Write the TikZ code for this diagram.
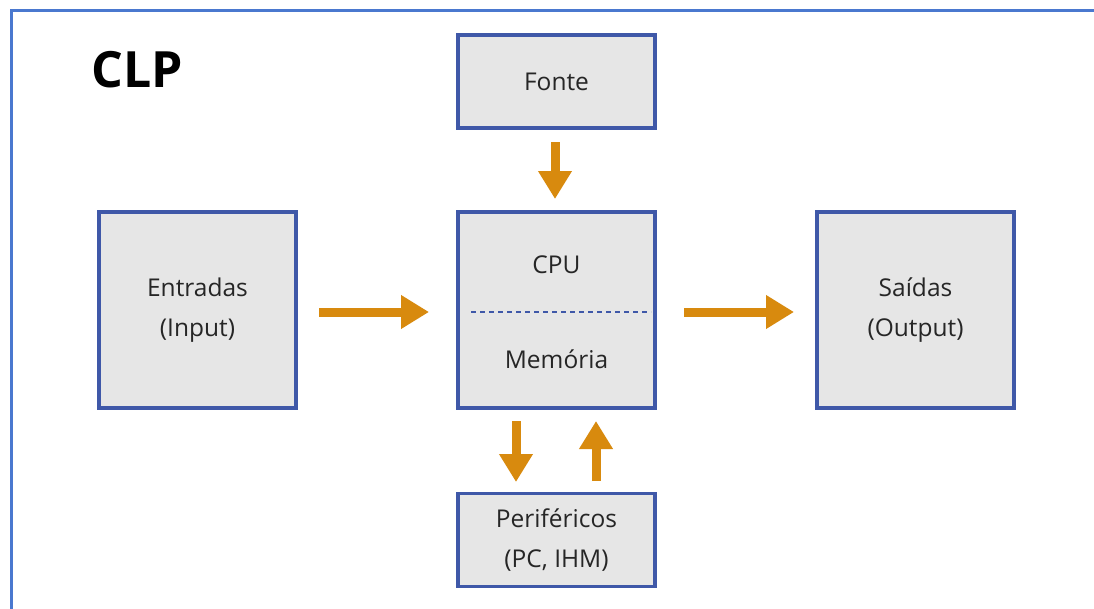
\documentclass[tikz,border=0pt]{standalone}
\usepackage{fontspec}
\setmainfont{Open Sans}
\usetikzlibrary{arrows.meta}
\definecolor{frameblue}{HTML}{4A78CF}
\definecolor{boxblue}{HTML}{3F58A8}
\definecolor{boxfill}{HTML}{E6E6E6}
\definecolor{arroworange}{HTML}{D88A0E}
\tikzset{
  blk/.style={draw=boxblue, line width=3.6pt, fill=boxfill, inner sep=0pt, align=center, font=\fontsize{24.5}{40}\selectfont, text=black!85},
  flow/.style={draw=arroworange, line width=9pt, -{Triangle[width=32pt,length=28pt]}, color=arroworange},
}
\begin{document}
\begin{tikzpicture}[x=1pt,y=-1pt]
\useasboundingbox (0,0) rectangle (1094,608);
\fill[white] (0,0) rectangle (1094,608);
\draw[frameblue, line width=3pt] (11,610) -- (11,10) -- (1096,10);
\node[anchor=center, font=\fontsize{50}{60}\selectfont\bfseries] (title) at (137,70) {CLP};
\node[blk, minimum width=197pt, minimum height=93pt] (fonte) at (556.5,81.5) {Fonte};
\node[blk, minimum width=197pt, minimum height=196pt] (cpu) at (556.5,310) {};
\node[blk, minimum width=197pt, minimum height=196pt] (ent) at (197.5,310) {Entradas\\(Input)};
\node[blk, minimum width=197pt, minimum height=196pt] (sai) at (915.5,310) {Saídas\\(Output)};
\node[blk, minimum width=197pt, minimum height=93pt] (per) at (556.5,540) {Periféricos\\(PC, IHM)};
\node[font=\fontsize{24.5}{28}\selectfont, text=black!85] (cpul) at (556.5,265) {CPU};
\node[font=\fontsize{24.5}{28}\selectfont, text=black!85] (meml) at (556.5,359) {Memória};
\coordinate (dl) at (471,312);
\coordinate (dr) at (651,312);
\draw[boxblue, line width=2pt, dash pattern=on 5pt off 4pt] (dl) -- (dr);
\coordinate (f1) at (555,142);
\coordinate (f2) at (555,199);
\draw[flow] (f1) -- (f2);
\coordinate (e1) at (319,312);
\coordinate (e2) at (429,312);
\draw[flow] (e1) -- (e2);
\coordinate (s1) at (684,312);
\coordinate (s2) at (794,312);
\draw[flow] (s1) -- (s2);
\coordinate (d1) at (516,421);
\coordinate (d2) at (516,482);
\draw[flow] (d1) -- (d2);
\coordinate (u1) at (596,481);
\coordinate (u2) at (596,421);
\draw[flow] (u1) -- (u2);
\end{tikzpicture}
\end{document}
